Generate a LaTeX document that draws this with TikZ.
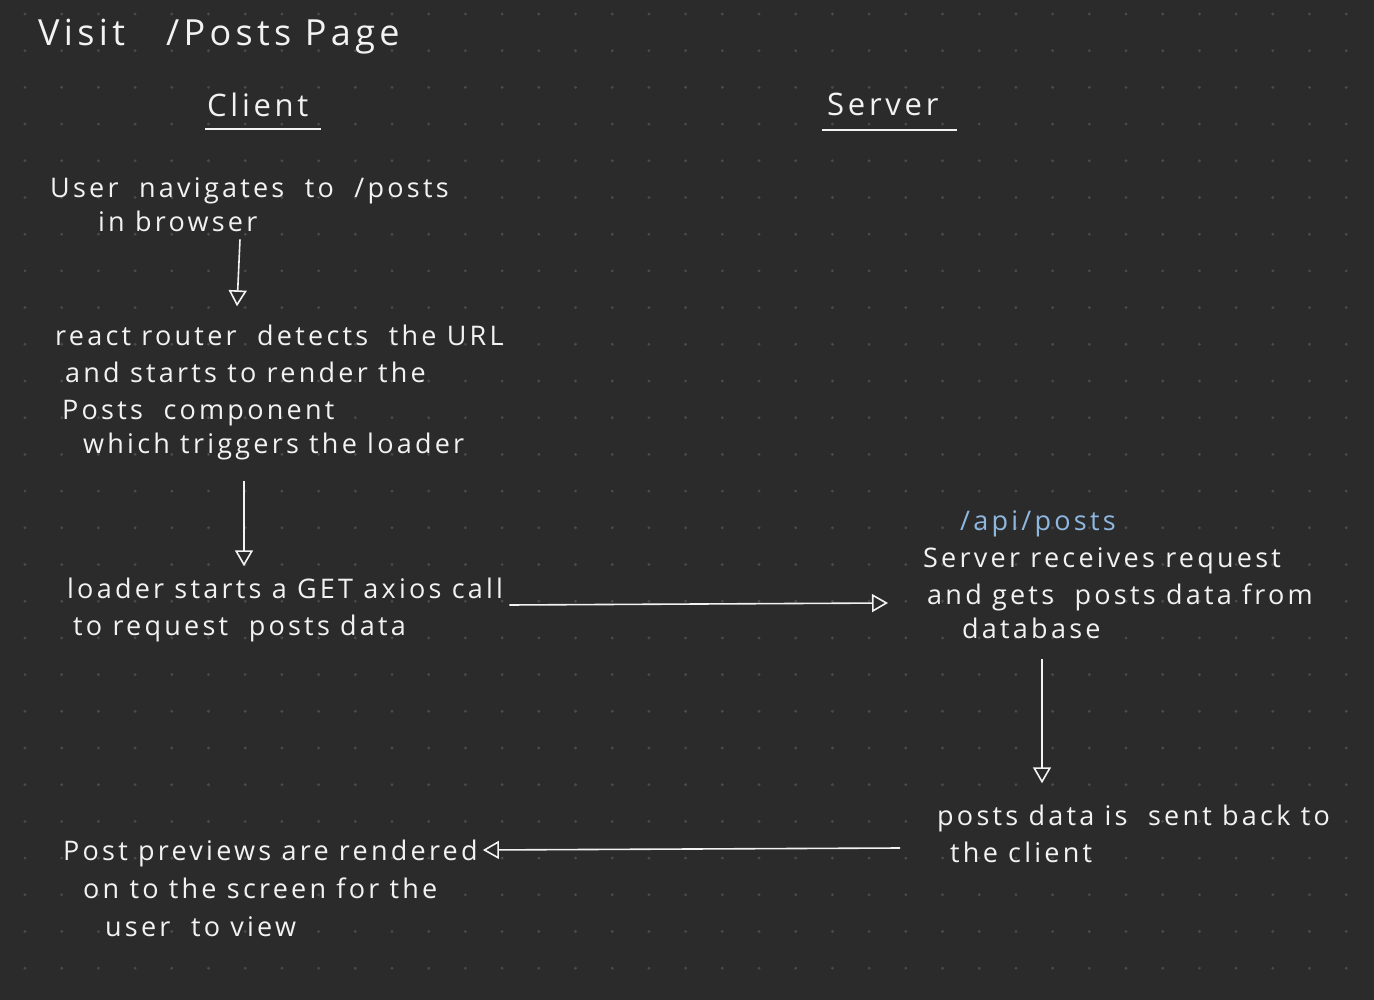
\documentclass[tikz,border=0pt]{standalone}
\usepackage{fontspec}
\setmainfont{Open Sans}[LetterSpace=12]
\usetikzlibrary{arrows.meta}
\definecolor{bg}{HTML}{2B2B2B}
\definecolor{dotc}{HTML}{4A4A4A}
\definecolor{ink}{HTML}{F2F2F2}
\definecolor{bluetxt}{HTML}{8FB8E0}
\tikzset{
  txt/.style={anchor=base west, inner sep=0pt, text=ink, font=\fontsize{27}{30}\selectfont},
  head/.style={anchor=base west, inner sep=0pt, text=ink, font=\fontsize{31}{36}\selectfont},
  arr/.style={draw=ink, line width=1.6pt, -{Triangle[open, length=16pt, width=18pt, line width=1.6pt]}},
  uline/.style={draw=ink, line width=1.6pt}
}
\begin{document}
\begin{tikzpicture}[x=1pt,y=-1pt]
\fill[bg] (0,0) rectangle (1374,1000);
\useasboundingbox (0,0) rectangle (1374,1000);
\foreach \i in {0,...,37}{\foreach \j in {0,...,27}{\fill[dotc] (25+36.7*\i,14+36.7*\j) circle (1.6);}}
% titles
\node[head, font=\fontsize{36}{40}\selectfont] (title) at (38,46) {Visit \ \ /Posts Page};
\node[head] (client) at (207,117) {Client};
\node[head] (server) at (827,116) {Server};
\draw[uline] ([xshift=-2pt,yshift=-12pt]client.base west) -- ([xshift=12pt,yshift=-12pt]client.base east);
\draw[uline] ([xshift=-5pt,yshift=-14pt]server.base west) -- ([xshift=18pt,yshift=-14pt]server.base east);
% client column
\node[txt] (a1) at (50,198) {User \ navigates \ to \ /posts};
\node[txt] (a2) at (98,232) {in browser};
\node[txt] (b1) at (55,346) {react router \ detects \ the URL};
\node[txt] (b2) at (65,382) {and starts to render the};
\node[txt] (b3) at (62,419) {Posts \ component};
\node[txt] (b4) at (83,453) {which triggers the loader};
\node[txt] (c1) at (67,598) {loader starts a GET axios call};
\node[txt] (c2) at (73,635) {to request \ posts data};
\node[txt] (f1) at (63,860) {Post previews are rendered};
\node[txt] (f2) at (83,898) {on to the screen for the};
\node[txt] (f3) at (105,936) {user \ to view};
% server column
\node[txt, text=bluetxt] (api) at (960,530) {/api/posts};
\node[txt] (d1) at (923,567) {Server receives request};
\node[txt] (d2) at (927,604) {and gets \ posts data from};
\node[txt] (d3) at (962,638) {database};
\node[txt] (e1) at (937,825) {posts data is \ sent back to};
\node[txt] (e2) at (950,862) {the client};
% connectors
\draw[arr] ([yshift=-7pt]a2.south -| 240,0) -- ([yshift=19pt]b1.north -| 237,0);
\draw[arr] ([yshift=-21pt]b4.south -| 244,0) -- ([yshift=11pt]c1.north -| 244,0);
\draw[arr] ([xshift=6pt,yshift=-7pt]c1.base east) -- ([xshift=-39pt,yshift=1pt]d2.base west);
\draw[arr] ([yshift=-21pt]d3.south -| 1042,0) -- ([yshift=21pt]e1.north -| 1042,0);
\draw[arr] ([xshift=-50pt,yshift=14pt]e2.base west) -- ([xshift=5pt,yshift=10pt]f1.base east);
\end{tikzpicture}
\end{document}
